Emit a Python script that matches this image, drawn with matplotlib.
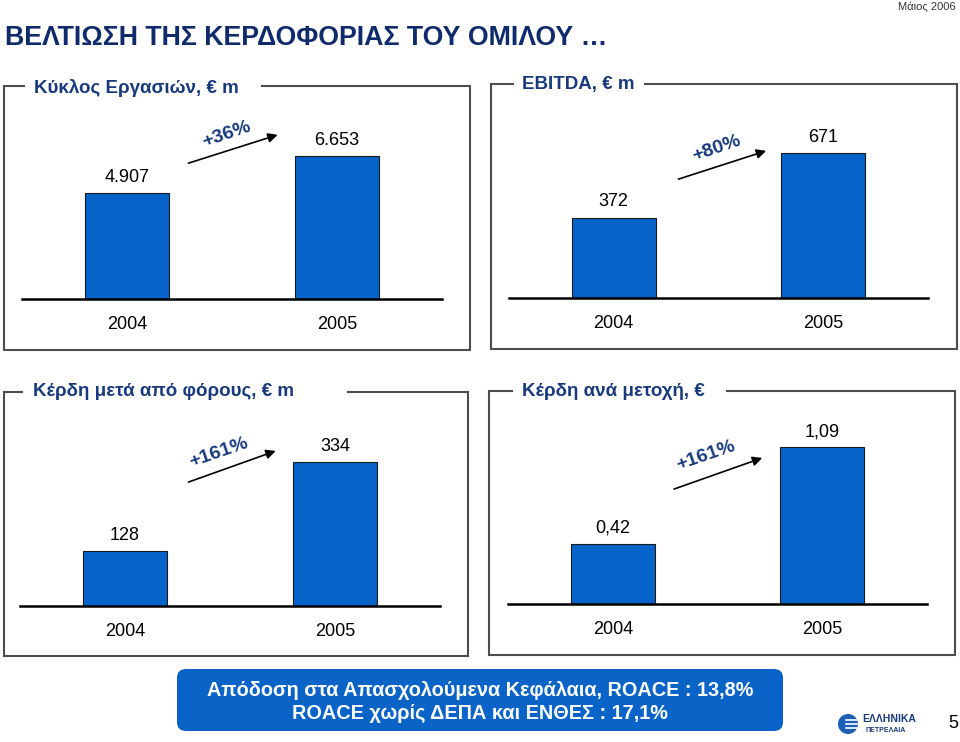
import matplotlib.pyplot as plt
from matplotlib.patches import FancyBboxPatch, Circle

# Δεδομένα
years = ['2004', '2005']
turnover = [4907, 6653]
turnover_labels = ['4.907', '6.653']
ebitda = [372, 671]
ebitda_labels = ['372', '671']
net_profit = [128, 334]
net_profit_labels = ['128', '334']
eps = [0.42, 1.09]
eps_labels = ['0,42', '1,09']
growth = ['+36%', '+80%', '+161%', '+161%']
titles = ['Κύκλος Εργασιών, € m', 'EBITDA, € m',
          'Κέρδη μετά από φόρους, € m', 'Κέρδη ανά μετοχή, €']

W, H = 960, 742
NAVY = '#0f2b6b'
NAVY2 = '#183a7c'
BAR = '#0563c9'
plt.rcParams['font.family'] = ['Liberation Sans', 'DejaVu Sans']

fig = plt.figure(figsize=(9.6, 7.42), dpi=100)

# fond σε pixel για πλαίσια και κείμενα
deco = fig.add_axes([0, 0, 1, 1])
deco.set_xlim(0, W)
deco.set_ylim(H, 0)
deco.axis('off')

deco.text(5, 38, 'ΒΕΛΤΙΩΣΗ ΤΗΣ ΚΕΡΔΟΦΟΡΙΑΣ ΤΟΥ ΟΜΙΛΟΥ …', ha='left', va='center',
          fontsize=19.3, fontweight='bold', color=NAVY)
deco.text(956, 7, 'Μάιος 2006', ha='right', va='center', fontsize=8, color='#333333')


def panel(values, labels, ymax, left, base, width, box, title, title_xy,
          arrow, gtext, gxy):
    l, r, t, b, g0, g1 = box
    deco.plot([g1, r, r, l, l, g0], [t, t, b, b, t, t], color='#4d4d4d', lw=1.5,
              solid_joinstyle='miter')
    deco.text(title_xy[0], title_xy[1], title, ha='left', va='center', fontsize=13.5,
              fontweight='bold', color=NAVY2)

    ax = fig.add_axes([left / W, 1 - base / H, width / W, 200 / H])
    ax.patch.set_visible(False)
    x = list(range(len(values)))
    ax.bar(x, values, width=0.4, color=BAR, edgecolor='#1a1a1a', linewidth=0.8)
    ax.set_xlim(-0.5, 1.5)
    ax.set_ylim(0, ymax)
    for s in ['top', 'left', 'right']:
        ax.spines[s].set_visible(False)
    ax.spines['bottom'].set_linewidth(1.8)
    ax.set_yticks([])
    ax.set_xticks(x, years)
    ax.tick_params(axis='x', length=0, pad=12.5, labelsize=13)
    for i, (v, lab) in enumerate(zip(values, labels)):
        ax.annotate(lab, (i, v), xytext=(0, 8), textcoords='offset points',
                    ha='center', va='baseline', fontsize=13)
    ax.annotate('', xy=arrow[1], xytext=arrow[0], xycoords='axes fraction',
                textcoords='axes fraction',
                arrowprops=dict(arrowstyle='-|>', color='black', lw=1.2,
                                mutation_scale=14))
    ax.text(gxy[0], gxy[1], gtext, transform=ax.transAxes, rotation=19,
            ha='center', va='center', fontsize=14, fontweight='bold', color=NAVY2)
    return ax


panel(turnover, turnover_labels, 9300, 22, 299, 420,
      (4, 470, 86, 350, 24, 262), titles[0], (34, 88),
      ((0.39, 0.675), (0.615, 0.825)), growth[0], (0.488, 0.82))
panel(ebitda, ebitda_labels, 925, 509, 298, 419,
      (491, 957, 84, 349, 513, 645), titles[1], (522, 85),
      ((0.398, 0.59), (0.62, 0.74)), growth[1], (0.496, 0.745))
panel(net_profit, net_profit_labels, 464, 20, 606, 420,
      (4, 468, 392, 656, 22, 348), titles[2], (33, 392),
      ((0.395, 0.615), (0.615, 0.78)), growth[2], (0.473, 0.765))
panel(eps, eps_labels, 1.39, 508, 604, 419,
      (489, 955, 391, 655, 512, 727), titles[3], (522, 392),
      ((0.39, 0.57), (0.613, 0.735)), growth[3], (0.472, 0.74))

# ROACE πλαίσιο
deco.add_patch(FancyBboxPatch((177, 669), 606, 62,
                              boxstyle='round,pad=0,rounding_size=9',
                              fc='#0a64c8', ec='none'))
deco.text(480, 690, 'Απόδοση στα Απασχολούμενα Κεφάλαια, ROACE : 13,8%',
          ha='center', va='center', fontsize=14.3, fontweight='bold', color='white')
deco.text(480, 713, 'ROACE χωρίς ΔΕΠΑ και ΕΝΘΕΣ : 17,1%',
          ha='center', va='center', fontsize=14.3, fontweight='bold', color='white')

# λογότυπο
deco.add_patch(Circle((848, 724), 10, fc='#1d5fb4', ec='none'))
for yy in [720, 724, 728]:
    deco.plot([846, 857], [yy, yy], color='white', lw=1.2)
deco.text(862, 719, 'ΕΛΛΗΝΙΚΑ', ha='left', va='center', fontsize=7.5,
          fontweight='bold', color=NAVY2)
deco.text(866, 731, 'ΠΕΤΡΕΛΑΙΑ', ha='left', va='center', fontsize=5,
          fontweight='bold', color=NAVY2)
deco.text(953, 724, '5', ha='center', va='center', fontsize=13)

fig.savefig('out.png', dpi=100)
